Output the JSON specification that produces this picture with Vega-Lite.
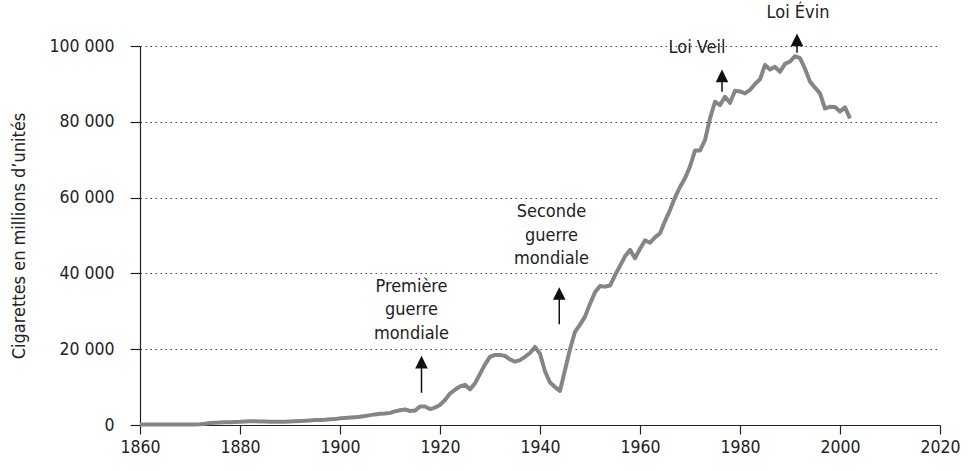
{
  "$schema": "https://vega.github.io/schema/vega-lite/v6.json",
  "width": 800,
  "height": 379,
  "autosize": {"type": "none"},
  "padding": {"left": 140, "top": 46, "right": 28, "bottom": 46},
  "background": "white",
  "config": {
    "view": {"stroke": null},
    "font": "DejaVu Sans Condensed, Roboto, sans-serif",
    "axis": {"labelFont": "DejaVu Sans Condensed, Roboto, sans-serif", "titleFont": "DejaVu Sans Condensed, Roboto, sans-serif", "labelColor": "#222", "titleColor": "#222", "domainColor": "#222", "tickColor": "#222"}
  },
  "datasets": {
    "conso": [
      {"year": 1860, "v": 100}, {"year": 1861, "v": 100}, {"year": 1862, "v": 100}, {"year": 1863, "v": 100},
      {"year": 1864, "v": 100}, {"year": 1865, "v": 120}, {"year": 1866, "v": 120}, {"year": 1867, "v": 130},
      {"year": 1868, "v": 130}, {"year": 1869, "v": 140}, {"year": 1870, "v": 150}, {"year": 1871, "v": 150},
      {"year": 1872, "v": 200}, {"year": 1873, "v": 350}, {"year": 1874, "v": 550}, {"year": 1875, "v": 600},
      {"year": 1876, "v": 650}, {"year": 1877, "v": 700}, {"year": 1878, "v": 750}, {"year": 1879, "v": 800},
      {"year": 1880, "v": 850}, {"year": 1881, "v": 950}, {"year": 1882, "v": 1000}, {"year": 1883, "v": 1000},
      {"year": 1884, "v": 950}, {"year": 1885, "v": 900}, {"year": 1886, "v": 850}, {"year": 1887, "v": 850},
      {"year": 1888, "v": 850}, {"year": 1889, "v": 850}, {"year": 1890, "v": 950}, {"year": 1891, "v": 1000},
      {"year": 1892, "v": 1050}, {"year": 1893, "v": 1100}, {"year": 1894, "v": 1200}, {"year": 1895, "v": 1300},
      {"year": 1896, "v": 1350}, {"year": 1897, "v": 1400}, {"year": 1898, "v": 1500}, {"year": 1899, "v": 1600},
      {"year": 1900, "v": 1750}, {"year": 1901, "v": 1850}, {"year": 1902, "v": 1950}, {"year": 1903, "v": 2050},
      {"year": 1904, "v": 2150}, {"year": 1905, "v": 2350}, {"year": 1906, "v": 2600}, {"year": 1907, "v": 2800},
      {"year": 1908, "v": 2950}, {"year": 1909, "v": 3050}, {"year": 1910, "v": 3200}, {"year": 1911, "v": 3600},
      {"year": 1912, "v": 3900}, {"year": 1913, "v": 4100}, {"year": 1914, "v": 3700}, {"year": 1915, "v": 3800},
      {"year": 1916, "v": 4900}, {"year": 1917, "v": 4900}, {"year": 1918, "v": 4200}, {"year": 1919, "v": 4600},
      {"year": 1920, "v": 5300}, {"year": 1921, "v": 6600}, {"year": 1922, "v": 8300}, {"year": 1923, "v": 9300},
      {"year": 1924, "v": 10200}, {"year": 1925, "v": 10600}, {"year": 1926, "v": 9400}, {"year": 1927, "v": 11000},
      {"year": 1928, "v": 13500}, {"year": 1929, "v": 16000}, {"year": 1930, "v": 18000}, {"year": 1931, "v": 18500},
      {"year": 1932, "v": 18500}, {"year": 1933, "v": 18200}, {"year": 1934, "v": 17300}, {"year": 1935, "v": 16700},
      {"year": 1936, "v": 17100}, {"year": 1937, "v": 18000}, {"year": 1938, "v": 19000}, {"year": 1939, "v": 20600},
      {"year": 1940, "v": 18800}, {"year": 1941, "v": 14200}, {"year": 1942, "v": 11200}, {"year": 1943, "v": 10000},
      {"year": 1944, "v": 9000}, {"year": 1945, "v": 14500}, {"year": 1946, "v": 20000}, {"year": 1947, "v": 24600},
      {"year": 1948, "v": 26500}, {"year": 1949, "v": 28600}, {"year": 1950, "v": 32000}, {"year": 1951, "v": 35000},
      {"year": 1952, "v": 36700}, {"year": 1953, "v": 36500}, {"year": 1954, "v": 36800}, {"year": 1955, "v": 39500},
      {"year": 1956, "v": 42000}, {"year": 1957, "v": 44500}, {"year": 1958, "v": 46200}, {"year": 1959, "v": 44000},
      {"year": 1960, "v": 46500}, {"year": 1961, "v": 48700}, {"year": 1962, "v": 48100}, {"year": 1963, "v": 49500},
      {"year": 1964, "v": 50600}, {"year": 1965, "v": 53800}, {"year": 1966, "v": 56700}, {"year": 1967, "v": 60000},
      {"year": 1968, "v": 62800}, {"year": 1969, "v": 65100}, {"year": 1970, "v": 68200}, {"year": 1971, "v": 72400},
      {"year": 1972, "v": 72400}, {"year": 1973, "v": 75200}, {"year": 1974, "v": 80900}, {"year": 1975, "v": 85300},
      {"year": 1976, "v": 84400}, {"year": 1977, "v": 86600}, {"year": 1978, "v": 85000}, {"year": 1979, "v": 88200},
      {"year": 1980, "v": 88000}, {"year": 1981, "v": 87500}, {"year": 1982, "v": 88400}, {"year": 1983, "v": 90000},
      {"year": 1984, "v": 91200}, {"year": 1985, "v": 95000}, {"year": 1986, "v": 93800}, {"year": 1987, "v": 94500},
      {"year": 1988, "v": 93200}, {"year": 1989, "v": 95300}, {"year": 1990, "v": 95900}, {"year": 1991, "v": 97300},
      {"year": 1992, "v": 96800}, {"year": 1993, "v": 94000}, {"year": 1994, "v": 90600}, {"year": 1995, "v": 89000},
      {"year": 1996, "v": 87500}, {"year": 1997, "v": 83500}, {"year": 1998, "v": 84000}, {"year": 1999, "v": 83900},
      {"year": 2000, "v": 82700}, {"year": 2001, "v": 83800}, {"year": 2002, "v": 80900}
    ],
    "labels": [
      {"label": "Première\nguerre\nmondiale", "year": 1914.3, "v": 36500},
      {"label": "Seconde\nguerre\nmondiale", "year": 1942.3, "v": 56100},
      {"label": "Loi Veil", "year": 1971.4, "v": 99500},
      {"label": "Loi Évin", "year": 1991.6, "v": 108700}
    ],
    "arrows": [
      {"year": 1916.3, "v0": 8500, "v1": 15500, "head": 16600},
      {"year": 1943.85, "v0": 26600, "v1": 33500, "head": 34700},
      {"year": 1976.4, "v0": 87900, "v1": 91000, "head": 92100},
      {"year": 1991.4, "v0": 98200, "v1": 100700, "head": 101600}
    ]
  },
  "layer": [
    {
      "data": {"name": "conso"},
      "mark": {"type": "line", "color": "#858585", "strokeWidth": 4, "strokeJoin": "round"},
      "encoding": {
        "x": {
          "field": "year", "type": "quantitative",
          "scale": {"domain": [1860, 2020], "nice": false, "zero": false},
          "axis": {
            "title": null, "values": [1860, 1880, 1900, 1920, 1940, 1960, 1980, 2000, 2020],
            "format": "d", "grid": false, "labelFontSize": 17.5, "labelPadding": 4,
            "tickSize": 9, "tickWidth": 1.2, "domainWidth": 1.2, "labelFlush": false
          }
        },
        "y": {
          "field": "v", "type": "quantitative",
          "scale": {"domain": [0, 100000], "nice": false},
          "axis": {
            "title": "Cigarettes en millions d’unités", "titleFontSize": 18, "titleFontWeight": "normal",
            "titlePadding": 20,
            "values": [0, 20000, 40000, 60000, 80000, 100000],
            "labelExpr": "replace(format(datum.value, ','), ',', ' ')",
            "labelFontSize": 17.5, "labelPadding": 16, "tickSize": 10, "tickWidth": 1.2, "domainWidth": 1.2,
            "grid": true, "gridDash": [1.5, 3.5], "gridColor": "#444", "gridWidth": 1.2,
            "labelFlush": false
          }
        }
      }
    },
    {
      "data": {"name": "arrows"},
      "mark": {"type": "rule", "color": "#111", "strokeWidth": 1.5},
      "encoding": {
        "x": {"field": "year", "type": "quantitative"},
        "y": {"field": "v0", "type": "quantitative"},
        "y2": {"field": "v1"}
      }
    },
    {
      "data": {"name": "arrows"},
      "mark": {"type": "point", "shape": "M-1,1H1L0,-1Z", "filled": true, "color": "#111", "opacity": 1, "size": 160},
      "encoding": {
        "x": {"field": "year", "type": "quantitative"},
        "y": {"field": "head", "type": "quantitative"}
      }
    },
    {
      "data": {"name": "labels"},
      "mark": {"type": "text", "fontSize": 18, "lineHeight": 23.5, "color": "#222", "align": "center", "baseline": "middle", "lineBreak": "\n"},
      "encoding": {
        "x": {"field": "year", "type": "quantitative"},
        "y": {"field": "v", "type": "quantitative"},
        "text": {"field": "label"}
      }
    }
  ]
}
